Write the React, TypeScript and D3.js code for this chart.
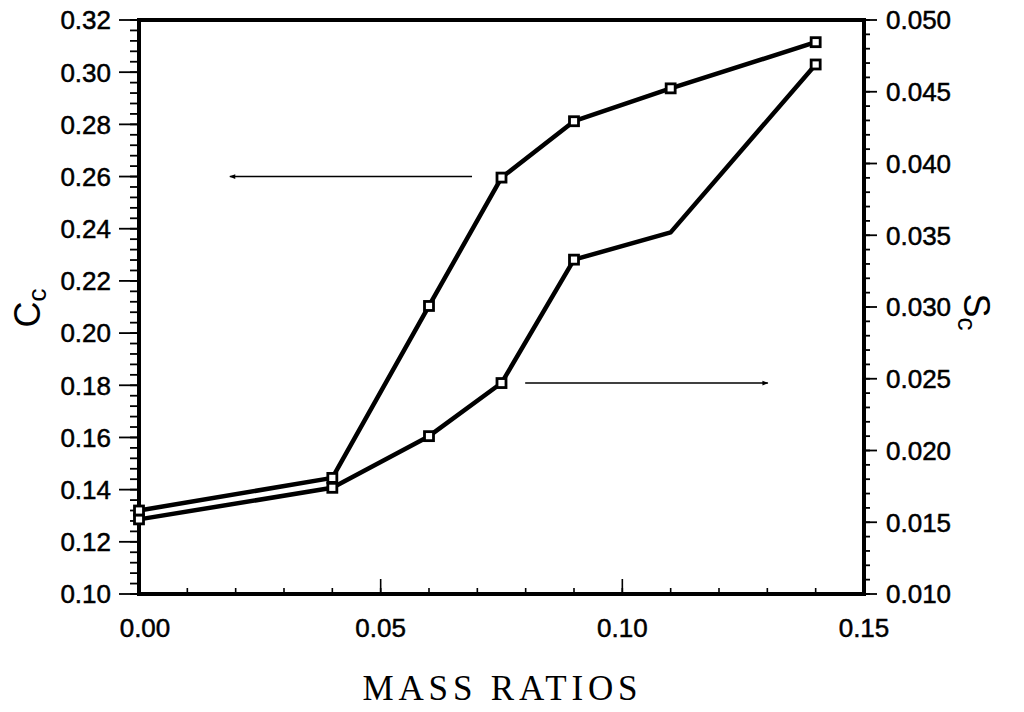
import React from "react";
import * as d3 from "d3";

const massRatios = [0.0, 0.04, 0.06, 0.075, 0.09, 0.11, 0.14];
const ccValues = [0.132, 0.1445, 0.2104, 0.2596, 0.2812, 0.2938, 0.3115];
const scValues = [0.0152, 0.0174, 0.021, 0.0247, 0.0333, 0.0352, 0.0469];
const scMarked = [true, true, true, true, true, false, true];

const xMajorTicks = [0, 0.05, 0.1, 0.15];
const xMinorTicks = d3.range(0, 0.1501, 0.01);
const leftMajorTicks = d3.range(0.1, 0.3201, 0.02);
const leftMinorTicks = d3.range(0.1, 0.3201, 0.004);
const rightMajorTicks = d3.range(0.01, 0.05001, 0.005);
const rightMinorTicks = d3.range(0.01, 0.05001, 0.001);

// arrows in data coordinates: [x1, x2, y]
const ccArrow = { from: 0.0689, to: 0.0188, y: 0.26 };
const scArrow = { from: 0.0799, to: 0.1301, y: 0.0247 };

const W = 1024;
const H = 712;
const L = 139, R = 864, T = 20, B = 594;

export default function App() {
  const x = d3.scaleLinear().domain([0, 0.15]).range([L, R]);
  const yL = d3.scaleLinear().domain([0.1, 0.32]).range([B, T]);
  const yR = d3.scaleLinear().domain([0.01, 0.05]).range([B, T]);

  const ccLine = d3.line<number>().x((_, i) => x(massRatios[i])).y((d) => yL(d));
  const scLine = d3.line<number>().x((_, i) => x(massRatios[i])).y((d) => yR(d));

  const tickFont = "'Liberation Sans', Arial, sans-serif";
  const ms = 9;
  const labelStroke = { stroke: "#000", strokeWidth: 0.5 };

  const marker = (cx: number, cy: number, k: string) => (
    <rect key={k} x={cx - ms / 2} y={cy - ms / 2} width={ms} height={ms} fill="#fff" stroke="#000" strokeWidth={2.8} />
  );

  return (
    <svg width={W} height={H} style={{ position: "absolute", left: 0, top: 0, background: "#fff" }}>
      <rect x={0} y={0} width={W} height={H} fill="#fff" />
      {/* x ticks */}
      {xMinorTicks.map((t, i) => (
        <line key={"xm" + i} x1={x(t)} x2={x(t)} y1={B} y2={B - 6} stroke="#000" strokeWidth={1.6} />
      ))}
      {xMajorTicks.map((t, i) => (
        <g key={"xM" + i}>
          <line x1={x(t)} x2={x(t)} y1={B} y2={B - 15} stroke="#000" strokeWidth={1.6} />
          <text x={x(t) + (i === 0 ? 6 : 0)} y={637} textAnchor="middle" fontFamily={tickFont} fontSize={26} fill="#000" {...labelStroke}>
            {d3.format(".2f")(t)}
          </text>
        </g>
      ))}
      {/* left ticks */}
      {leftMinorTicks.map((t, i) => (
        <line key={"lm" + i} x1={L - 9} x2={L} y1={yL(t)} y2={yL(t)} stroke="#000" strokeWidth={1.8} />
      ))}
      {leftMajorTicks.map((t, i) => (
        <g key={"lM" + i}>
          <line x1={L - 20} x2={L} y1={yL(t)} y2={yL(t)} stroke="#000" strokeWidth={1.8} />
          <text x={L - 28} y={yL(t)} dy="0.36em" textAnchor="end" fontFamily={tickFont} fontSize={26} fill="#000" {...labelStroke}>
            {d3.format(".2f")(t)}
          </text>
        </g>
      ))}
      {/* right ticks */}
      {rightMinorTicks.map((t, i) => (
        <line key={"rm" + i} x1={R} x2={R + 6} y1={yR(t)} y2={yR(t)} stroke="#000" strokeWidth={1.8} />
      ))}
      {rightMajorTicks.map((t, i) => (
        <g key={"rM" + i}>
          <line x1={R} x2={R + 13} y1={yR(t)} y2={yR(t)} stroke="#000" strokeWidth={1.8} />
          <text x={R + 22} y={yR(t)} dy="0.36em" textAnchor="start" fontFamily={tickFont} fontSize={26} fill="#000" {...labelStroke}>
            {d3.format(".3f")(t)}
          </text>
        </g>
      ))}
      {/* frame */}
      <rect x={L} y={T} width={R - L} height={B - T} fill="none" stroke="#000" strokeWidth={4} />

      {/* arrows */}
      <defs>
        <marker id="ah" viewBox="0 0 10 10" refX="9" refY="5" markerWidth="9" markerHeight="6" orient="auto-start-reverse" markerUnits="userSpaceOnUse">
          <path d="M0,1 L10,5 L0,9 Z" fill="#000" />
        </marker>
      </defs>
      <line x1={x(ccArrow.from)} x2={x(ccArrow.to)} y1={yL(ccArrow.y)} y2={yL(ccArrow.y)} stroke="#000" strokeWidth={1.6} markerEnd="url(#ah)" />
      <line x1={x(scArrow.from)} x2={x(scArrow.to)} y1={yR(scArrow.y)} y2={yR(scArrow.y)} stroke="#000" strokeWidth={1.6} markerEnd="url(#ah)" />

      {/* series */}
      <path d={scLine(scValues) || ""} fill="none" stroke="#000" strokeWidth={4.5} strokeLinejoin="round" />
      <path d={ccLine(ccValues) || ""} fill="none" stroke="#000" strokeWidth={4.5} strokeLinejoin="round" />
      {scValues.map((v, i) => (scMarked[i] ? marker(x(massRatios[i]), yR(v), "sm" + i) : null))}
      {ccValues.map((v, i) => marker(x(massRatios[i]), yL(v), "cm" + i))}

      {/* axis titles */}
      <text transform="translate(40,308) rotate(-90)" textAnchor="middle" fontFamily={tickFont} fontSize={36} fill="#000">
        C<tspan dy="6" fontSize={26}>c</tspan>
      </text>
      <text transform="translate(964,312) rotate(90)" textAnchor="middle" fontFamily={tickFont} fontSize={36} fill="#000">
        S<tspan dy="6" fontSize={26}>c</tspan>
      </text>
      <text x={500} y={700} textAnchor="middle" fontFamily="'Liberation Serif', 'DejaVu Serif', serif" fontSize={35} textLength={275} lengthAdjust="spacing" fill="#000">
        MASS RATIOS
      </text>
    </svg>
  );
}
